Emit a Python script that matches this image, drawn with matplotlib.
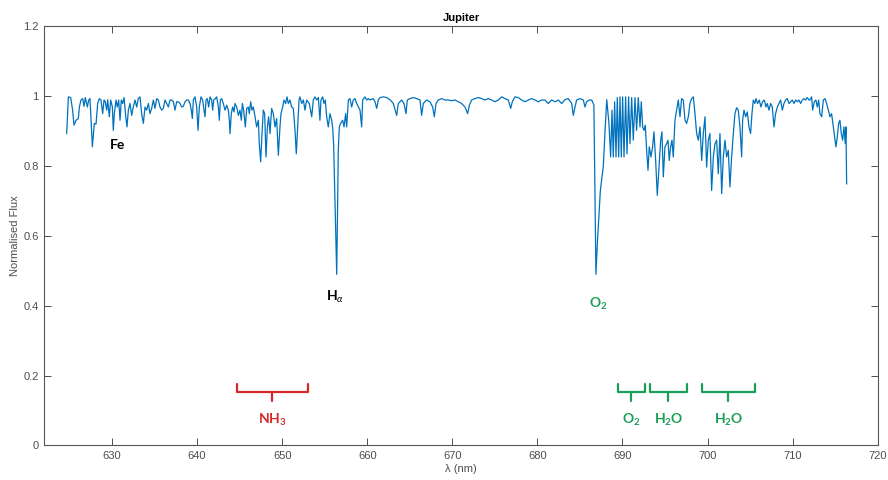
import matplotlib
matplotlib.use("Agg")
import matplotlib.pyplot as plt

# spectrum
wavelength_nm = [
    624.67, 624.87, 625.14, 625.37, 625.53, 625.77, 626.04, 626.16, 626.35, 626.55,
    626.71, 626.86, 627.10, 627.26, 627.41, 627.53, 627.69, 627.92, 628.12, 628.31,
    628.51, 628.70, 628.90, 629.06, 629.21, 629.37, 629.49, 629.68, 629.84, 630.04,
    630.15, 630.27, 630.47, 630.62, 630.78, 630.94, 631.09, 631.25, 631.41, 631.60,
    631.76, 631.92, 632.11, 632.31, 632.50, 632.70, 632.90, 633.09, 633.29, 633.48,
    633.68, 633.88, 634.07, 634.27, 634.46, 634.66, 634.86, 635.05, 635.25, 635.44,
    635.64, 635.84, 636.03, 636.23, 636.42, 636.62, 636.81, 637.01, 637.21, 637.40,
    637.60, 637.79, 637.99, 638.19, 638.38, 638.58, 638.77, 638.97, 639.17, 639.32,
    639.44, 639.56, 639.75, 639.95, 640.11, 640.26, 640.46, 640.65, 640.81, 640.93,
    641.05, 641.20, 641.36, 641.52, 641.71, 641.83, 641.95, 642.14, 642.30, 642.50,
    642.61, 642.73, 642.89, 643.08, 643.28, 643.48, 643.67, 643.79, 643.87, 644.02,
    644.18, 644.34, 644.45, 644.65, 644.85, 645.04, 645.20, 645.32, 645.47, 645.67,
    645.83, 646.02, 646.14, 646.30, 646.45, 646.61, 646.81, 647.00, 647.20, 647.31,
    647.47, 647.63, 647.78, 647.94, 648.10, 648.26, 648.41, 648.57, 648.76, 648.96,
    649.16, 649.35, 649.55, 649.74, 649.86, 650.06, 650.21, 650.41, 650.57, 650.72,
    650.92, 651.11, 651.31, 651.51, 651.66, 651.82, 651.98, 652.09, 652.29, 652.49,
    652.68, 652.88, 653.19, 653.47, 653.66, 653.86, 654.05, 654.25, 654.44, 654.56,
    654.76, 654.91, 655.07, 655.23, 655.42, 655.62, 655.82, 655.95, 656.05, 656.41,
    656.60, 656.72, 656.87, 657.11, 657.27, 657.46, 657.58, 657.78, 657.97, 658.17,
    658.36, 658.56, 658.76, 659.15, 659.34, 659.46, 659.73, 659.93, 660.13, 660.32,
    660.71, 660.91, 661.11, 661.30, 661.50, 661.89, 662.28, 662.67, 663.06, 663.46,
    663.65, 664.04, 664.32, 664.55, 664.71, 665.02, 665.41, 665.81, 666.20, 666.39,
    666.59, 666.98, 667.37, 667.69, 667.88, 668.08, 668.35, 668.74, 669.14, 669.53,
    669.92, 670.31, 670.70, 671.10, 671.49, 671.80, 672.00, 672.27, 672.66, 673.05,
    673.45, 673.84, 674.23, 674.62, 675.01, 675.41, 675.80, 676.19, 676.58, 676.86,
    677.05, 677.36, 677.76, 678.15, 678.54, 678.93, 679.32, 679.72, 680.11, 680.50,
    680.89, 681.28, 681.67, 682.07, 682.46, 682.85, 683.24, 683.63, 684.03, 684.22,
    684.42, 684.61, 685.01, 685.40, 685.59, 685.79, 686.10, 686.38, 686.57, 686.64,
    686.78, 686.88, 687.05, 687.40, 687.75, 687.95, 688.15, 688.41, 688.61, 688.77,
    688.92, 689.08, 689.24, 689.39, 689.55, 689.71, 689.86, 690.02, 690.18, 690.37,
    690.53, 690.72, 690.88, 691.08, 691.27, 691.47, 691.66, 691.86, 692.06, 692.21,
    692.37, 692.53, 692.68, 692.84, 693.00, 693.15, 693.35, 693.54, 693.70, 693.90,
    694.09, 694.29, 694.49, 694.64, 694.80, 694.99, 695.19, 695.35, 695.50, 695.66,
    695.82, 695.97, 696.17, 696.37, 696.56, 696.76, 696.95, 697.15, 697.35, 697.54,
    697.74, 697.93, 698.13, 698.33, 698.52, 698.72, 698.91, 699.11, 699.31, 699.50,
    699.70, 699.89, 700.09, 700.28, 700.48, 700.68, 700.87, 701.07, 701.26, 701.46,
    701.66, 701.85, 702.05, 702.24, 702.44, 702.63, 702.83, 703.03, 703.22, 703.42,
    703.61, 703.81, 704.01, 704.12, 704.28, 704.48, 704.67, 704.87, 705.06, 705.22,
    705.38, 705.57, 705.69, 705.89, 706.08, 706.28, 706.47, 706.67, 706.87, 707.02,
    707.22, 707.41, 707.61, 707.81, 708.00, 708.20, 708.39, 708.59, 708.79, 708.98,
    709.18, 709.37, 709.57, 709.76, 709.96, 710.16, 710.35, 710.55, 710.74, 710.94,
    711.14, 711.33, 711.53, 711.72, 711.92, 712.04, 712.23, 712.35, 712.55, 712.74,
    712.90, 713.06, 713.21, 713.41, 713.61, 713.80, 714.00, 714.19, 714.39, 714.58,
    714.78, 714.98, 715.09, 715.25, 715.41, 715.56, 715.72, 715.88, 716.03, 716.19,
    716.27, 716.35,
]
flux = [
    0.893, 0.998, 0.996, 0.960, 0.917, 0.931, 0.936, 0.969, 0.989, 0.993,
    0.971, 0.996, 0.969, 0.989, 0.993, 0.931, 0.855, 0.922, 0.920, 0.979,
    0.993, 0.989, 0.950, 0.989, 0.984, 0.960, 0.990, 0.941, 0.989, 0.969,
    0.902, 0.950, 0.989, 0.969, 0.989, 0.931, 0.989, 0.979, 0.996, 0.945,
    0.912, 0.960, 0.979, 0.945, 0.969, 0.989, 0.969, 0.993, 0.998, 0.950,
    0.922, 0.969, 0.960, 0.979, 0.950, 0.965, 0.989, 0.965, 0.993, 0.989,
    0.969, 0.960, 0.965, 0.989, 0.979, 0.969, 0.989, 0.989, 0.984, 0.960,
    0.984, 0.984, 0.979, 0.969, 0.971, 0.984, 0.989, 0.989, 0.979, 0.960,
    0.936, 0.989, 0.998, 0.969, 0.902, 0.969, 0.998, 0.989, 0.960, 0.941,
    0.989, 0.993, 0.969, 0.998, 0.989, 0.960, 0.989, 0.993, 0.998, 0.969,
    0.931, 0.989, 0.993, 0.979, 0.960, 0.974, 0.960, 0.931, 0.893, 0.950,
    0.969, 0.955, 0.979, 0.969, 0.945, 0.960, 0.931, 0.979, 0.960, 0.912,
    0.965, 0.969, 0.950, 0.984, 0.960, 0.969, 0.941, 0.912, 0.931, 0.864,
    0.812, 0.893, 0.960, 0.950, 0.826, 0.912, 0.941, 0.893, 0.965, 0.950,
    0.912, 0.936, 0.831, 0.912, 0.950, 0.969, 0.989, 0.979, 0.998, 0.979,
    0.989, 0.969, 0.965, 0.902, 0.835, 0.912, 0.989, 0.998, 0.979, 0.989,
    0.960, 0.989, 0.979, 0.941, 0.989, 0.998, 0.989, 0.996, 0.931, 0.989,
    0.998, 0.979, 0.989, 0.941, 0.912, 0.950, 0.931, 0.905, 0.860, 0.490,
    0.850, 0.912, 0.922, 0.931, 0.912, 0.950, 0.912, 0.989, 0.993, 0.969,
    0.989, 0.993, 0.979, 0.960, 0.912, 0.989, 0.998, 0.989, 0.993, 0.989,
    0.993, 0.984, 0.965, 0.989, 0.996, 0.998, 0.996, 0.990, 0.979, 0.945,
    0.979, 0.989, 0.979, 0.950, 0.989, 0.993, 0.996, 0.993, 0.989, 0.945,
    0.979, 0.989, 0.984, 0.969, 0.941, 0.979, 0.989, 0.993, 0.989, 0.989,
    0.987, 0.989, 0.984, 0.979, 0.969, 0.950, 0.974, 0.989, 0.993, 0.996,
    0.993, 0.989, 0.993, 0.989, 0.984, 0.989, 0.998, 0.993, 0.989, 0.965,
    0.984, 0.998, 0.996, 0.989, 0.984, 0.989, 0.993, 0.989, 0.984, 0.989,
    0.989, 0.979, 0.989, 0.984, 0.989, 0.979, 0.990, 0.993, 0.979, 0.945,
    0.969, 0.989, 0.993, 0.989, 0.969, 0.984, 0.989, 0.989, 0.979, 0.975,
    0.700, 0.490, 0.580, 0.730, 0.800, 0.900, 0.990, 0.922, 0.826, 0.960,
    0.826, 0.984, 0.826, 0.996, 0.826, 0.998, 0.826, 0.998, 0.826, 0.998,
    0.835, 0.998, 0.864, 0.996, 0.874, 0.996, 0.902, 0.996, 0.912, 0.984,
    0.912, 0.902, 0.917, 0.845, 0.788, 0.855, 0.826, 0.855, 0.898, 0.816,
    0.716, 0.797, 0.874, 0.898, 0.769, 0.855, 0.864, 0.874, 0.816, 0.855,
    0.874, 0.826, 0.931, 0.960, 0.989, 0.941, 0.993, 0.989, 0.931, 0.922,
    0.941, 0.979, 0.993, 0.998, 0.950, 0.893, 0.874, 0.912, 0.816, 0.893,
    0.941, 0.797, 0.874, 0.893, 0.730, 0.826, 0.864, 0.874, 0.778, 0.893,
    0.721, 0.826, 0.874, 0.826, 0.845, 0.740, 0.826, 0.893, 0.950, 0.967,
    0.960, 0.912, 0.826, 0.931, 0.960, 0.941, 0.955, 0.912, 0.893, 0.950,
    0.989, 0.979, 0.993, 0.979, 0.989, 0.969, 0.984, 0.989, 0.969, 0.979,
    0.960, 0.979, 0.969, 0.912, 0.950, 0.969, 0.979, 0.989, 0.960, 0.979,
    0.989, 0.993, 0.979, 0.984, 0.989, 0.979, 0.989, 0.984, 0.989, 0.979,
    0.989, 0.993, 0.989, 0.996, 0.989, 0.989, 0.998, 0.960, 0.984, 0.989,
    0.969, 0.989, 0.950, 0.941, 0.989, 0.993, 0.979, 0.960, 0.941, 0.950,
    0.912, 0.874, 0.855, 0.883, 0.922, 0.931, 0.893, 0.874, 0.912, 0.864,
    0.912, 0.749,
]

# labelled lines
line_labels = ["Fe", r"$\mathbf{H}_{\alpha}$", r"$\mathbf{O_2}$"]
line_wl = [630.6, 656.25, 687.1]
line_flux = [0.86, 0.426, 0.406]
line_colors = ["black", "black", "#1a9e55"]

# absorption bands marked with brackets
band_labels = [r"$\mathbf{NH_3}$", r"$\mathbf{O_2}$", r"$\mathbf{H_2O}$", r"$\mathbf{H_2O}$"]
band_start = [644.7, 689.5, 693.2, 699.3]
band_end = [653.0, 692.6, 697.6, 705.6]
band_colors = ["#d42a2a", "#1a9e55", "#1a9e55", "#1a9e55"]

plt.rcParams["font.family"] = ["Liberation Sans", "DejaVu Sans"]
plt.rcParams["mathtext.fontset"] = "custom"
plt.rcParams["mathtext.rm"] = "Lato"
plt.rcParams["mathtext.bf"] = "Lato:bold"
plt.rcParams["mathtext.it"] = "Lato:italic"
plt.rcParams["mathtext.fallback"] = "stixsans"

fig = plt.figure(figsize=(8.88, 4.8), dpi=100)
ax = fig.add_axes([0.0499, 0.0719, 0.9385, 0.8733])

ax.plot(wavelength_nm, flux, color="#0072BD", lw=0.9)

for lab, x, y, c in zip(line_labels, line_wl, line_flux, line_colors):
    ax.text(x, y, lab, color=c, fontsize=10, fontweight="bold", family="Lato",
            ha="center", va="center")

top, base, tip = 0.176, 0.152, 0.126
for lab, x0, x1, c in zip(band_labels, band_start, band_end, band_colors):
    xm = (x0 + x1) / 2
    ax.plot([x0, x0, x1, x1], [top, base, base, top], color=c, lw=1.6,
            solid_joinstyle="round", solid_capstyle="round")
    ax.plot([xm, xm], [base, tip], color=c, lw=1.6, solid_capstyle="round")
    ax.text(xm, 0.072, lab, color=c, fontsize=10, ha="center", va="center")

ax.set_xlim(622.04, 720)
ax.set_ylim(0, 1.2)
ax.set_xticks(range(630, 721, 10))
ax.set_yticks([0, 0.2, 0.4, 0.6, 0.8, 1.0, 1.2])
ax.set_yticklabels(["0", "0.2", "0.4", "0.6", "0.8", "1", "1.2"])
ax.tick_params(direction="in", top=True, right=True, length=5, width=0.7,
               labelsize=8, colors="#4d4d4d", pad=4)
for s in ax.spines.values():
    s.set_color("#555555")
    s.set_linewidth(0.8)

ax.set_xlabel("λ (nm)", fontsize=8, color="#4d4d4d", labelpad=2)
ax.set_ylabel("Normalised Flux", fontsize=8, color="#4d4d4d")
ax.yaxis.set_label_coords(-0.029, 0.5)
ax.set_title("Jupiter", fontsize=8, fontweight="bold", pad=4)

fig.savefig("out.png", dpi=100)
